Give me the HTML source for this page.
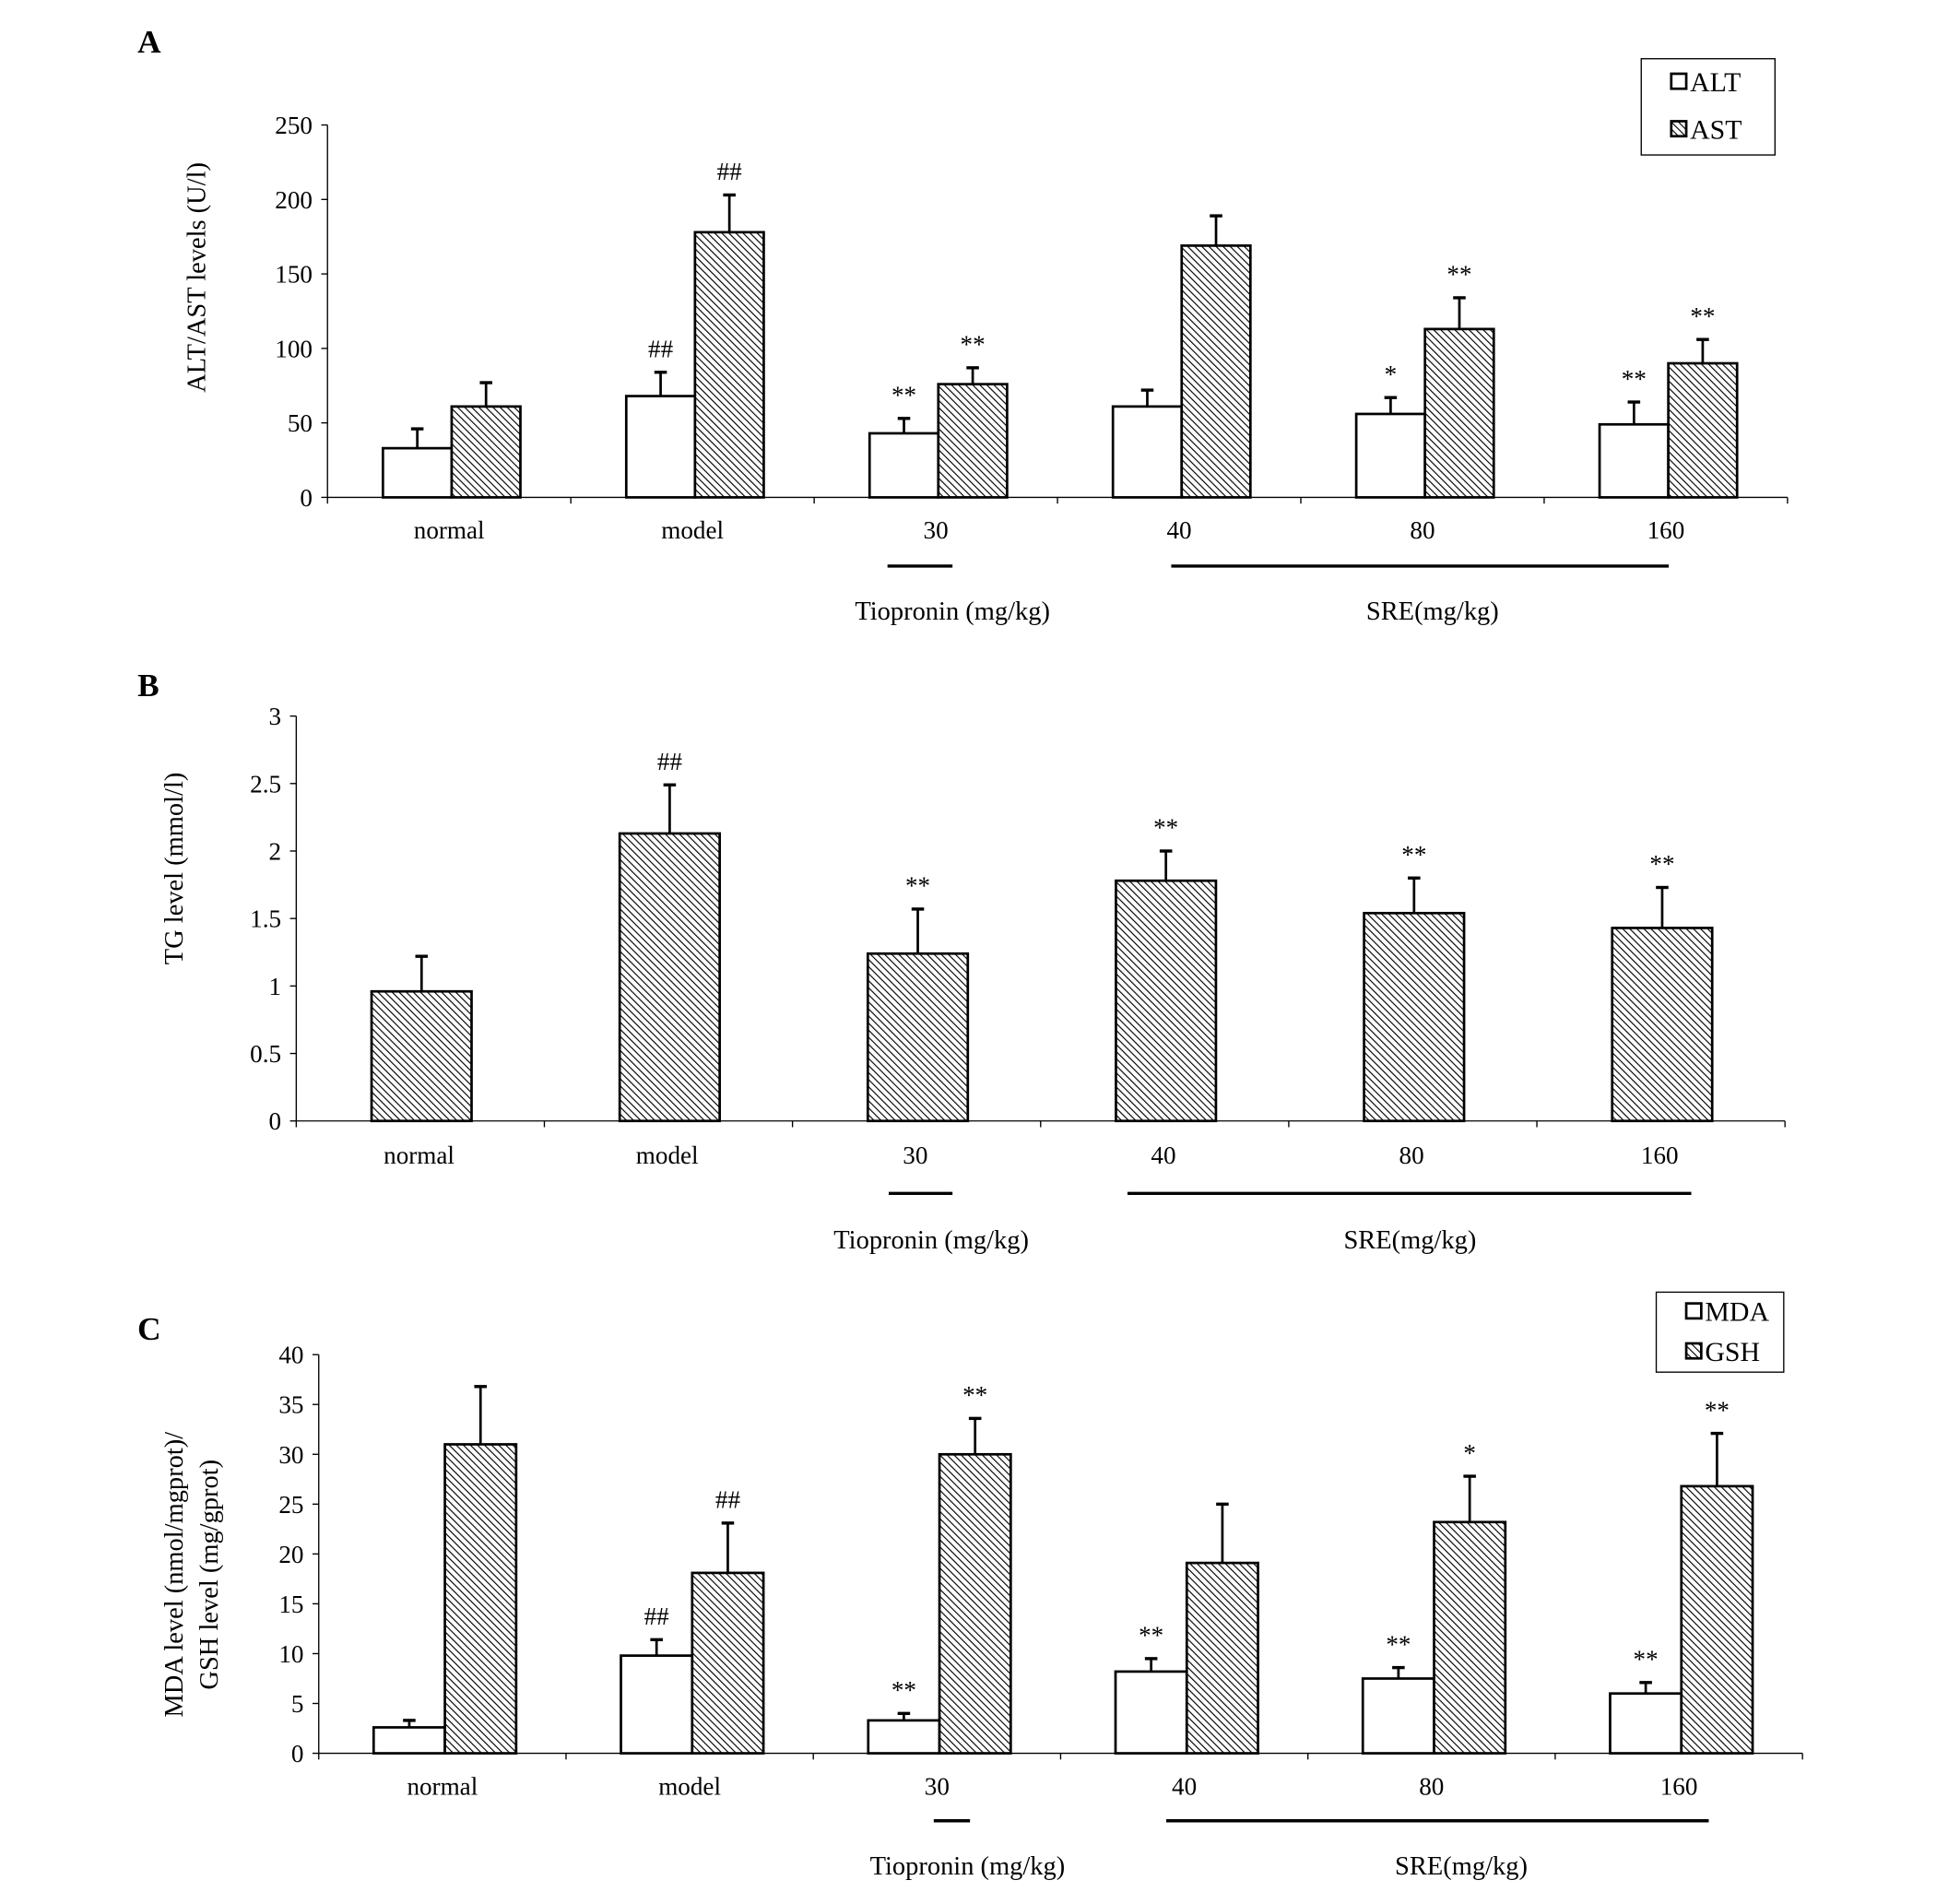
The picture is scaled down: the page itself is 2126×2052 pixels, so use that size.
<!DOCTYPE html>
<html><head><meta charset="utf-8"><style>
html,body{margin:0;padding:0;background:#fff;}
svg{display:block;font-family:"Liberation Serif",serif;}
</style></head><body>
<svg id="fig" width="2126" height="2052" viewBox="0 0 1568 1514" preserveAspectRatio="none" xmlns="http://www.w3.org/2000/svg">
<defs>
<pattern id="hatch" patternUnits="userSpaceOnUse" width="4" height="4" patternTransform="rotate(-45)">
<rect width="4" height="4" fill="#fff"/>
<line x1="0" y1="0" x2="0" y2="4" stroke="#000" stroke-width="1.7"/>
</pattern>
</defs>
<g id="root"></g>
</svg>
<script>
const categories = ["normal","model","30","40","80","160"];
// Panel A
const altValues = [33,68,43,61,56,49];
const altErrors = [13,16,10,11,11,15];
const altMarks = ["","##","**","","*","**"];
const astValues = [61,178,76,169,113,90];
const astErrors = [16,25,11,20,21,16];
const astMarks = ["","##","**","","**","**"];
const aTicks = [0,50,100,150,200,250];
// Panel B
const tgValues = [0.96,2.13,1.24,1.78,1.54,1.43];
const tgErrors = [0.26,0.36,0.33,0.22,0.26,0.30];
const tgMarks = ["","##","**","**","**","**"];
const bTicks = [0,0.5,1,1.5,2,2.5,3];
// Panel C
const mdaValues = [2.6,9.8,3.3,8.2,7.5,6.0];
const mdaErrors = [0.7,1.6,0.7,1.3,1.1,1.1];
const mdaMarks = ["","##","**","**","**","**"];
const gshValues = [31,18.1,30,19.1,23.2,26.8];
const gshErrors = [5.8,5.0,3.6,5.9,4.6,5.3];
const gshMarks = ["","##","**","","*","**"];
const cTicks = [0,5,10,15,20,25,30,35,40];

const NS="http://www.w3.org/2000/svg";
const root=document.getElementById('root');
function mk(tag,attrs,parent,text){const e=document.createElementNS(NS,tag);for(const k in attrs)e.setAttribute(k,attrs[k]);if(text!==undefined)e.textContent=text;(parent||root).appendChild(e);return e;}

function panel(cfg){
  const g=mk('g',{});
  
  
  const {x0,x1,y0,yTop,max}=cfg;
  const ys=v=>y0-(v/max)*(y0-yTop);
  const cw=(x1-x0)/categories.length;
  const cx=i=>x0+cw*(i+0.5)+cfg.shift;
  const ya=mk('line',{x1:x0,y1:yTop,x2:x0,y2:y0,stroke:'#000','stroke-width':1},g);
  
  const xa=mk('line',{x1:x0,y1:y0,x2:x1,y2:y0,stroke:'#000','stroke-width':1},g);
  
  cfg.ticks.forEach(t=>{
    mk('line',{x1:x0-5,y1:ys(t),x2:x0,y2:ys(t),stroke:'#000'},g);
    const tl=mk('text',{x:x0-12,y:ys(t)+7,'text-anchor':'end','font-size':20},g,String(t));
    
  });
  for(let i=0;i<=categories.length;i++){mk('line',{x1:x0+cw*i,y1:y0,x2:x0+cw*i,y2:y0+5,stroke:'#000'},g);}
  categories.forEach((c,i)=>{
    const t=mk('text',{x:cx(i)-2,y:cfg.labY,'text-anchor':'middle','font-size':20},g,c);
    
  });
  const n=cfg.series.length;
  cfg.series.forEach((s,si)=>{
    s.values.forEach((v,i)=>{
      const bx=cx(i)-cfg.bw*n/2+si*cfg.bw;
      const top=ys(v), et=ys(v+s.errors[i]);
      const ex=bx+cfg.bw/2;
      mk('line',{x1:ex,y1:top,x2:ex,y2:et,stroke:'#000','stroke-width':2},g);
      mk('line',{x1:ex-5,y1:et,x2:ex+5,y2:et,stroke:'#000','stroke-width':2.5},g);
      const r=mk('rect',{x:bx,y:top,width:cfg.bw,height:y0-top,fill:s.hatch?'url(#hatch)':'#fff',stroke:'#000','stroke-width':2},g);
      
      
      if(s.marks[i]){
        const m=mk('text',{x:ex,y:et-12,'text-anchor':'middle','font-size':20},g,s.marks[i]);
        
      }
    });
  });
  cfg.lines.forEach(l=>mk('line',{x1:l[0],y1:cfg.lineY,x2:l[1],y2:cfg.lineY,stroke:'#000','stroke-width':2.5},g));
  const g1=mk('text',{x:cfg.grp[0],y:cfg.grpY,'text-anchor':'middle','font-size':21},g,'Tiopronin (mg/kg)');
  
  const g2=mk('text',{x:cfg.grp[1],y:cfg.grpY,'text-anchor':'middle','font-size':21},g,'SRE(mg/kg)');
  
  cfg.ytitle.forEach((t,k)=>{
    const yt=mk('text',{x:0,y:0,'text-anchor':'middle','font-size':21,transform:`translate(${cfg.ytx[k]},${cfg.yty}) rotate(-90)`},g,t);
    
  });
  const pl=mk('text',{x:110,y:cfg.letterY,'font-size':26,'font-weight':'bold'},g,cfg.letter);
  
  if(cfg.legend){
    const L=cfg.legend;
    const lg=mk('g',{},g);
    
    mk('rect',{x:L.x,y:L.y,width:L.w,height:L.h,fill:'#fff',stroke:'#000','stroke-width':1},lg);
    L.items.forEach((it,k)=>{
      const yy=L.ys[k];
      const sw=mk('rect',{x:L.x+24,y:yy-7,width:12,height:12,fill:it[1]?'url(#hatch)':'#fff',stroke:'#000','stroke-width':2},lg);
      
      const lt=mk('text',{x:L.x+39,y:yy+7,'font-size':22},lg,it[0]);
      
    });
  }
}

panel({name:'panel-a',letter:'A',letterY:42,x0:262,x1:1430,y0:398,yTop:100,max:250,ticks:aTicks,bw:55,shift:2,labY:431,
  series:[{key:'alt',values:altValues,errors:altErrors,marks:altMarks,hatch:false},{key:'ast',values:astValues,errors:astErrors,marks:astMarks,hatch:true}],
  lines:[[710,762],[937,1335]],lineY:453,grp:[762,1146],grpY:496,ytitle:['ALT/AST levels (U/l)'],ytx:[164],yty:222,
  legend:{x:1313,y:47,w:107,h:77,ys:[66,104],items:[['ALT',false],['AST',true]]}});
panel({name:'panel-b',letter:'B',letterY:557,x0:237,x1:1428,y0:897,yTop:573,max:3,ticks:bTicks,bw:80,shift:1,labY:931,
  series:[{key:'tg',values:tgValues,errors:tgErrors,marks:tgMarks,hatch:true}],
  lines:[[711,762],[902,1353]],lineY:955,grp:[745,1128],grpY:999,ytitle:['TG level (mmol/l)'],ytx:[146],yty:695});
panel({name:'panel-c',letter:'C',letterY:1072,x0:255,x1:1442,y0:1403,yTop:1084,max:40,ticks:cTicks,bw:57,shift:2,labY:1436,
  series:[{key:'mda',values:mdaValues,errors:mdaErrors,marks:mdaMarks,hatch:false},{key:'gsh',values:gshValues,errors:gshErrors,marks:gshMarks,hatch:true}],
  lines:[[747,776],[933,1367]],lineY:1457,grp:[774,1169],grpY:1500,ytitle:['MDA level (nmol/mgprot)/','GSH level (mg/gprot)'],ytx:[146,174],yty:1260,
  legend:{x:1325,y:1034,w:102,h:64,ys:[1050,1082],items:[['MDA',false],['GSH',true]]}});
</script>
</body></html>
